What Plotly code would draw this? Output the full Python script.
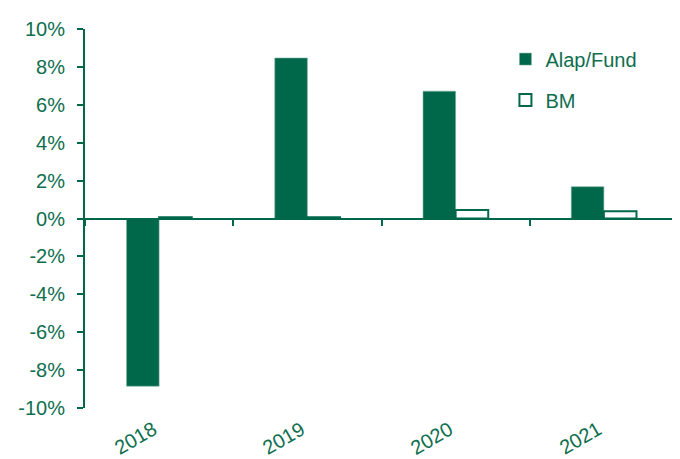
import plotly.graph_objects as go

years = ["2018", "2019", "2020", "2021"]
fund = [-8.85, 8.47, 6.72, 1.68]
bm = [0.07, 0.07, 0.45, 0.38]
y_ticks = [-10, -8, -6, -4, -2, 0, 2, 4, 6, 8, 10]
y_tick_text = [f"{v}%" for v in y_ticks]

GREEN = "#00684A"
TEXT = "#0E6E4E"
FONT = "Liberation Sans, Arial, sans-serif"

fig = go.Figure()
fig.add_trace(go.Bar(x=years, y=fund, name="Alap/Fund", marker=dict(color=GREEN, line=dict(color="#7fb3a2", width=0.6)), legendgroup="a"))
fig.add_trace(go.Bar(x=years, y=bm, name="BM", marker=dict(color="white", line=dict(color=GREEN, width=2)), legendgroup="b"))

for i, yr in enumerate(years):
    fig.add_annotation(x=i, y=-10, xref="x", yref="y", text=yr, showarrow=False,
                       textangle=-30, xanchor="right", yanchor="top", yshift=-6, xshift=4,
                       font=dict(family=FONT, size=20, color=TEXT))

fig.update_layout(
    width=680, height=459,
    margin=dict(l=67, r=10, t=12, b=59),
    paper_bgcolor="white", plot_bgcolor="white",
    barmode="group", bargap=0.56, bargroupgap=0,
    font=dict(family=FONT, size=20, color=TEXT),
    showlegend=True,
    legend=dict(x=0.709, y=0.972, xanchor="left", yanchor="top", bgcolor="rgba(0,0,0,0)",
                font=dict(family=FONT, size=20, color=TEXT), itemwidth=30,
                traceorder="grouped", tracegroupgap=12),
    xaxis=dict(type="category", categoryarray=years, range=[-0.5, 3.5], anchor="free", position=0.5,
               showline=True, linecolor=GREEN, linewidth=2,
               ticks="outside", tickson="boundaries", ticklen=6, tickcolor=GREEN, tickwidth=2,
               showticklabels=False, showgrid=False, zeroline=False),
    yaxis=dict(range=[-10, 10], tickvals=y_ticks, ticktext=y_tick_text, showline=True, linecolor=GREEN,
               linewidth=2, ticks="outside", ticklen=6, tickcolor=GREEN, tickwidth=2, showgrid=False,
               zeroline=False, ticklabelstandoff=8, ticklabeloverflow="allow",
               tickfont=dict(family=FONT, size=20, color=TEXT)),
)

fig.write_html("out.html")
